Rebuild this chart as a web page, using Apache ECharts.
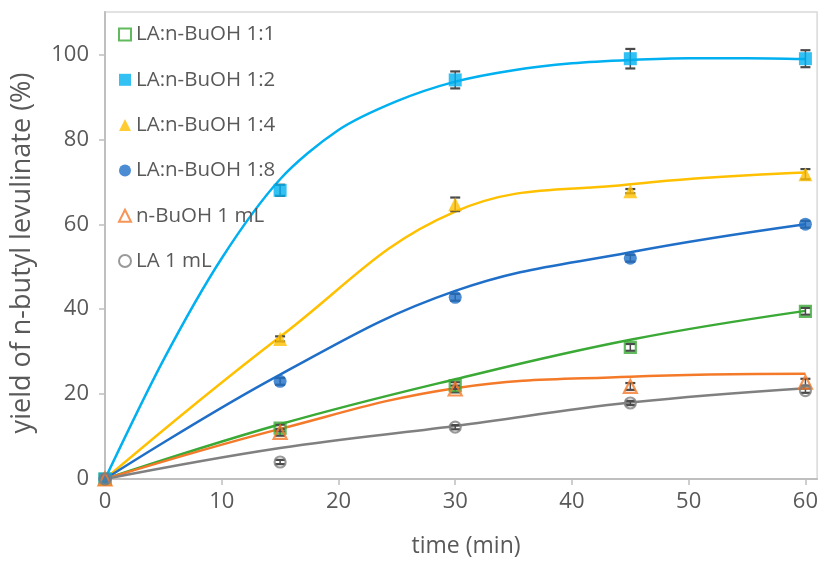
<!DOCTYPE html>
<html>
<head>
<meta charset="utf-8">
<script src="https://cdn.jsdelivr.net/npm/echarts@6/dist/echarts.min.js"></script>
<style>
  html, body { margin: 0; padding: 0; background: #fff; }
  #chart { width: 821px; height: 563px; }
</style>
</head>
<body>
<div id="chart"></div>
<script>
// sampling times (min)
var times = [0, 15, 30, 45, 60];
var xTicks = [0, 10, 20, 30, 40, 50, 60];
var yTicks = [0, 20, 40, 60, 80, 100];

var names = ['LA:n-BuOH 1:1', 'LA:n-BuOH 1:2', 'LA:n-BuOH 1:4', 'LA:n-BuOH 1:8', 'n-BuOH 1 mL', 'LA 1 mL'];

// measured yields (%)
var ratio11 = [0, 12, 22, 31, 39.5];
var ratio12 = [0, 68, 94, 99, 99];
var ratio14 = [0, 33, 64.7, 67.8, 71.8];
var ratio18 = [0, 23, 42.8, 52, 60];
var buoh1 = [0, 11, 21.2, 21.8, 22.8];
var la1 = [0, 4, 12.2, 17.9, 20.8];

// error (+/-)
var err11 = [0, 0.8, 0.8, 0.8, 0.8];
var err12 = [0, 1.3, 2, 2.3, 2];
var err14 = [0, 0.6, 1.6, 0.5, 1.2];
var err18 = [0, 0.8, 0.8, 0.8, 0.8];
var errBu = [0, 0.8, 0.8, 0.8, 0.8];
var errLa = [0, 0.5, 0.5, 0.5, 0.5];

// fitted curves
var fitTimes12 = [0, 5, 10, 15, 20, 25, 30, 35, 40, 45, 50, 55, 60];
var fit12 = [0, 28, 52, 70.6, 82.2, 89, 93.6, 96.3, 97.9, 98.7, 99.1, 99.1, 98.9];
var fit11 = [0, 12.9, 23.5, 32.8, 39.6];
var fit14 = [0, 33.5, 63, 69.4, 72.2];
var fit18 = [0, 24.6, 44.3, 53.4, 60];
var fitBu = [0, 11.8, 21.4, 24.1, 24.8];
var fitLa = [0, 7.3, 12.5, 18, 21.4];

var groups = [
  { vals: ratio11, err: err11, fit: fit11, fitT: times, smooth: 0.4, color: '#3aa935', symbol: 'rect', open: true, size: 11 },
  { vals: ratio12, err: err12, fit: fit12, fitT: fitTimes12, smooth: 0.3, color: '#00b0f0', symbol: 'rect', open: false, size: 13 },
  { vals: ratio14, err: err14, fit: fit14, fitT: times, smooth: 0.4, color: '#ffc000', symbol: 'triangle', open: false, size: 14 },
  { vals: ratio18, err: err18, fit: fit18, fitT: times, smooth: 0.4, color: '#1f6fc8', symbol: 'circle', open: false, size: 13 },
  { vals: buoh1, err: errBu, fit: fitBu, fitT: times, smooth: 0.4, color: '#f47a2a', symbol: 'triangle', open: true, size: 13 },
  { vals: la1, err: errLa, fit: fitLa, fitT: times, smooth: 0.4, color: '#808080', symbol: 'circle', open: true, size: 11 }
];

function pairs(t, a) {
  return t.map(function (x, i) { return [x, a[i]]; });
}

function errorBars(params, api) {
  var x = api.value(0), lo = api.value(1), hi = api.value(2);
  if (hi - lo <= 0) return null;
  var a = api.coord([x, hi]), b = api.coord([x, lo]);
  var w = 5;
  var cap = { stroke: '#4a4a4a', lineWidth: 2.2 };
  return {
    type: 'group',
    children: [
      { type: 'line', shape: { x1: a[0], y1: a[1], x2: b[0], y2: b[1] }, style: { stroke: '#4a4a4a', lineWidth: 1.5 } },
      { type: 'line', shape: { x1: a[0] - w, y1: a[1], x2: a[0] + w, y2: a[1] }, style: cap },
      { type: 'line', shape: { x1: b[0] - w, y1: b[1], x2: b[0] + w, y2: b[1] }, style: cap }
    ]
  };
}

var series = [];
groups.forEach(function (g, k) {
  series.push({
    name: names[k] + ' fit',
    type: 'line',
    data: pairs(g.fitT, g.fit),
    smooth: g.smooth,
    showSymbol: false,
    lineStyle: { color: g.color, width: 2.5 },
    z: 2,
    silent: true
  });
  series.push({
    name: names[k] + ' err',
    type: 'custom',
    renderItem: errorBars,
    data: times.map(function (t, i) { return [t, g.vals[i] - g.err[i], g.vals[i] + g.err[i]]; }),
    z: 3,
    silent: true
  });
});
groups.forEach(function (g, k) {
  series.push({
    name: names[k],
    type: 'scatter',
    data: pairs(times, g.vals),
    symbol: g.symbol,
    symbolSize: g.size,
    itemStyle: g.open
      ? { color: 'rgba(255,255,255,0)', borderColor: g.color, borderWidth: 2.2 }
      : { color: g.color },
    z: 4
  });
});

var chart = echarts.init(document.getElementById('chart'));
chart.setOption({
  animation: false,
  textStyle: { fontFamily: 'Open Sans' },
  grid: { left: 105, right: 3, top: 12, bottom: 83, show: true, borderColor: '#d9d9d9', borderWidth: 1.5 },
  graphic: [{
    type: 'text',
    x: 22,
    y: 253,
    rotation: Math.PI / 2,
    style: {
      text: 'yield of n-butyl levulinate (%)',
      font: '27px "Open Sans"',
      fill: '#595959',
      align: 'center',
      verticalAlign: 'middle'
    }
  }],
  legend: {
    data: names,
    orient: 'vertical',
    left: 113,
    top: 19,
    itemGap: 24.3,
    itemWidth: 12,
    itemHeight: 12,
    textStyle: { fontSize: 20.5, color: '#595959', fontFamily: 'Open Sans' }
  },
  xAxis: {
    type: 'value',
    min: 0,
    max: 61,
    interval: 10,
    name: 'time (min)',
    nameLocation: 'middle',
    nameGap: 56,
    nameTextStyle: { fontSize: 23, color: '#595959', padding: [0, 0, 0, 10] },
    axisLine: { lineStyle: { color: '#bfbfbf', width: 2 } },
    axisTick: { show: true, length: 6, lineStyle: { color: '#bfbfbf', width: 1.5 }, customValues: xTicks },
    axisLabel: { fontSize: 22, color: '#595959', margin: 12, customValues: xTicks },
    splitLine: { show: false }
  },
  yAxis: {
    type: 'value',
    min: 0,
    max: 110,
    interval: 20,
    axisLine: { show: true, lineStyle: { color: '#bfbfbf', width: 2 } },
    axisTick: { show: true, length: 6, lineStyle: { color: '#bfbfbf', width: 1.5 }, customValues: yTicks },
    axisLabel: { fontSize: 22, color: '#595959', margin: 16, customValues: yTicks },
    splitLine: { show: false }
  },
  series: series
});
</script>
</body>
</html>
